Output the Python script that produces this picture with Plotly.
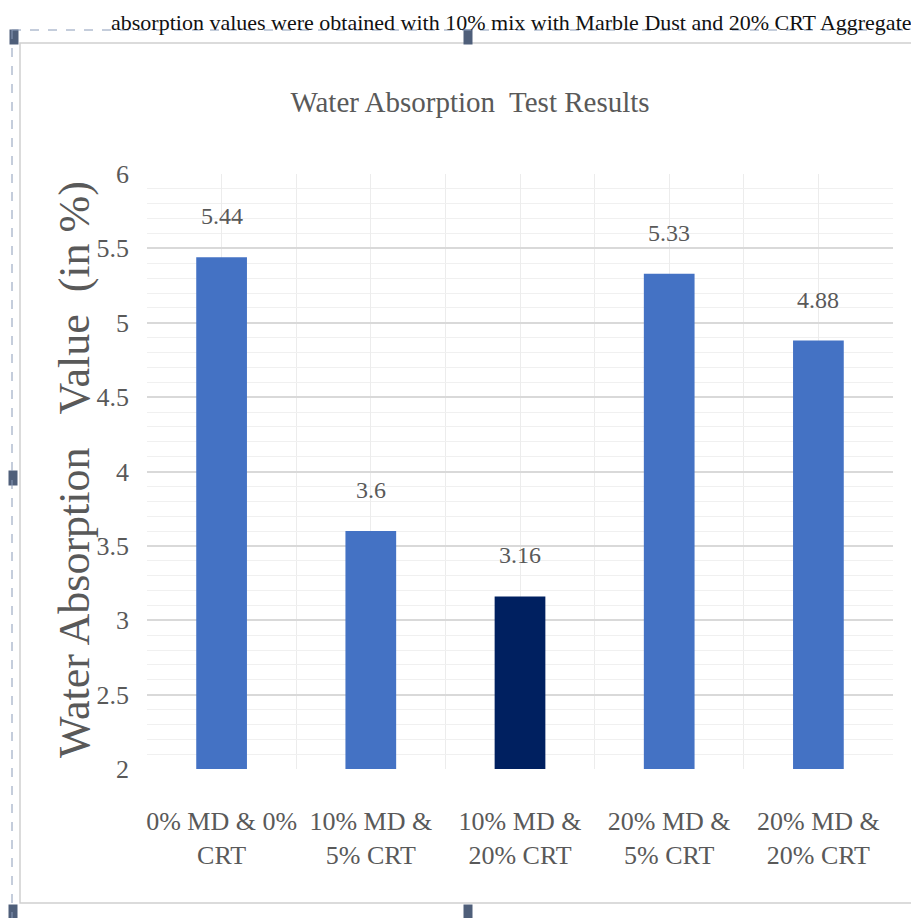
import plotly.graph_objects as go

# ---- data ----
categories = ["0% MD & 0%<br>CRT", "10% MD &<br>5% CRT", "10% MD &<br>20% CRT",
              "20% MD &<br>5% CRT", "20% MD &<br>20% CRT"]
water_absorption = [5.44, 3.6, 3.16, 5.33, 4.88]
value_labels = ["5.44", "3.6", "3.16", "5.33", "4.88"]
y_ticks = [2, 2.5, 3, 3.5, 4, 4.5, 5, 5.5, 6]

# ---- layout geometry (page pixels; the page body adds an 8px offset) ----
OFF = 8
PAGE_W, PAGE_H = 919, 918
W, H = PAGE_W - OFF, PAGE_H - OFF
L, R, T, B = 147 - OFF, 893 - OFF, 174 - OFF, 769 - OFF


def px(xp):
    return (xp - OFF - L) / (R - L)


def py(yp):
    return (B - (yp - OFF)) / (B - T)


FONT = "Liberation Serif, Times New Roman, serif"
GRAY = "#595959"
highlight = 2
colors = ["#002060" if i == highlight else "#4472C4" for i in range(len(categories))]
xpos = list(range(len(categories)))

fig = go.Figure()
fig.add_trace(go.Bar(
    x=xpos, y=water_absorption, width=0.34,
    marker=dict(color=colors, line=dict(width=0)),
    hoverinfo="skip",
))

for xv, yv, lab in zip(xpos, water_absorption, value_labels):
    fig.add_annotation(x=xv, y=yv, text=lab, showarrow=False, yanchor="bottom",
                       yshift=26, font=dict(family=FONT, size=24, color=GRAY))

NB = "\u00a0"
ytitle = "Water Absorption" + NB * 3 + "Value" + NB * 2 + "(in %)"
fig.add_annotation(xref="paper", yref="paper", x=px(74), y=py(470),
                   xanchor="center", yanchor="middle",
                   text=ytitle, textangle=-90,
                   showarrow=False, font=dict(family=FONT, size=44, color=GRAY))

# document text above the chart frame
fig.add_annotation(xref="paper", yref="paper", x=px(914), y=py(OFF), xanchor="right",
                   yanchor="top",
                   text="absorption values were obtained with 10% mix with Marble Dust and 20% CRT Aggregate",
                   showarrow=False, font=dict(family=FONT, size=22, color="#111111"))

shapes = []
# chart area border
shapes.append(dict(type="rect", xref="paper", yref="paper", x0=px(20), x1=px(917),
                   y0=py(903), y1=py(43), line=dict(color="#d0d0d0", width=1.5),
                   fillcolor="rgba(0,0,0,0)", layer="below"))
# dashed selection frame
shapes.append(dict(type="line", xref="paper", yref="paper", x0=px(12), x1=px(919),
                   y0=py(30), y1=py(30), line=dict(color="#8a9bb8", width=1, dash="dash")))
shapes.append(dict(type="line", xref="paper", yref="paper", x0=px(12), x1=px(12),
                   y0=py(30), y1=py(918), line=dict(color="#8a9bb8", width=1, dash="dash")))
# handles
for hx, hy in [(14, 37), (468, 37), (13, 478), (13, 912), (468, 912)]:
    shapes.append(dict(type="rect", xref="paper", yref="paper", x0=px(hx - 4.5), x1=px(hx + 4.5),
                       y0=py(hy + 7.5), y1=py(hy - 7.5), line=dict(width=0),
                       fillcolor="#4f5f7a", layer="below"))

fig.update_layout(
    width=W, height=H,
    margin=dict(l=L, r=W - R, t=T, b=H - B),
    paper_bgcolor="white", plot_bgcolor="white",
    showlegend=False,
    title=dict(text="Water Absorption" + NB + " Test Results", x=(470 - OFF) / W, xanchor="center",
               y=1 - (102 - OFF) / H, yanchor="middle", xref="container", yref="container",
               font=dict(family=FONT, size=29, color=GRAY)),
    shapes=shapes,
    xaxis=dict(
        range=[-0.5, len(categories) - 0.5],
        tickmode="array", tickvals=xpos, ticktext=categories,
        tickfont=dict(family=FONT, size=26, color=GRAY),
        showgrid=True, gridcolor="#ececec", gridwidth=1,
        minor=dict(tickmode="array",
                   tickvals=[i - 0.5 for i in range(len(categories) + 1)],
                   showgrid=True, gridcolor="#ececec", gridwidth=1),
        ticks="", ticklabelstandoff=34,
        showline=False, zeroline=False, fixedrange=True,
    ),
    yaxis=dict(
        range=[2, 6], tickmode="array", tickvals=y_ticks,
        ticktext=[f"{v:g}" for v in y_ticks],
        tickfont=dict(family=FONT, size=26, color=GRAY),
        showgrid=True, gridcolor="#d9d9d9", gridwidth=1.5,
        minor=dict(dtick=0.1, tick0=2, showgrid=True, gridcolor="#f0f0f0", gridwidth=1),
        ticks="", ticklabelstandoff=17,
        showline=False, zeroline=False, fixedrange=True,
    ),
)

fig.write_html("out.html")
